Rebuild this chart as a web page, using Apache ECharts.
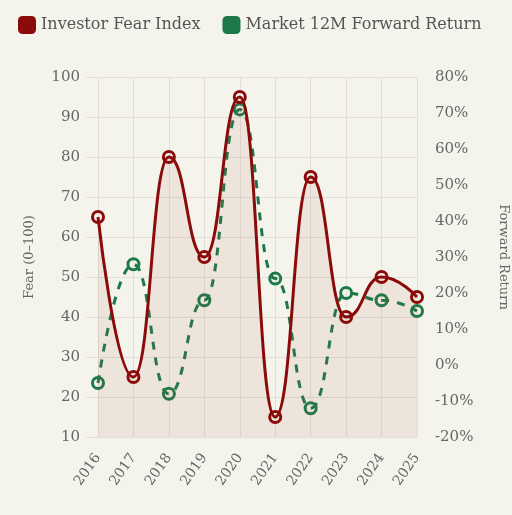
<!DOCTYPE html>
<html>
<head>
<meta charset="utf-8">
<script src="https://cdn.jsdelivr.net/npm/echarts@6/dist/echarts.min.js"></script>
<style>
  html, body { margin: 0; padding: 0; background: #f4f3ec; }
  #chart { width: 512px; height: 515px; }
</style>
</head>
<body>
<div id="chart"></div>
<script>
var years = ["2016", "2017", "2018", "2019", "2020", "2021", "2022", "2023", "2024", "2025"];
var fearIndex = [65, 25, 80, 55, 95, 15, 75, 40, 50, 45];
var forwardReturn = [-5, 28, -8, 18, 71, 24, -12, 20, 18, 15];

var font = "DejaVu Serif, Georgia, serif";
var textColor = "#666";
var red = "#8b0a0a";
var green = "#1d7a48";

var chart = echarts.init(document.getElementById("chart"));
var option = {
  backgroundColor: "#f4f3ec",
  textStyle: { fontFamily: font },
  legend: {
    left: 13,
    top: 11,
    itemWidth: 18,
    itemHeight: 18,
    itemGap: 22,
    icon: "roundRect",
    textStyle: { fontFamily: font, fontSize: 16, color: "#555" },
    data: [
      { name: "Investor Fear Index", itemStyle: { color: red, borderWidth: 0 } },
      { name: "Market 12M Forward Return", itemStyle: { color: green, borderWidth: 0 } }
    ]
  },
  grid: { left: 98, right: 95, top: 77, bottom: 78, outerBoundsMode: "none", containLabel: false },
  xAxis: {
    type: "category",
    data: years,
    boundaryGap: false,
    axisLine: { show: false },
    axisTick: { show: true, lineStyle: { color: "#e2ded8" }, length: 14 },
    splitLine: { show: true, lineStyle: { color: "#e2ded8" } },
    axisLabel: { rotate: 55, color: textColor, fontSize: 14, margin: 18, fontFamily: font }
  },
  yAxis: [
    {
      type: "value",
      min: 10,
      max: 100,
      interval: 10,
      name: "Fear (0–100)",
      nameLocation: "middle",
      nameGap: 62,
      nameTextStyle: { color: textColor, fontSize: 13, fontFamily: font },
      axisLine: { show: false },
      axisTick: { show: true, length: 12, lineStyle: { color: "#e2ded8" } },
      splitLine: { lineStyle: { color: "#e2ded8" } },
      axisLabel: { color: textColor, fontSize: 15, margin: 18, fontFamily: font }
    },
    {
      type: "value",
      min: -20,
      max: 80,
      interval: 10,
      name: "Forward Return",
      nameLocation: "middle",
      nameGap: 80,
      nameRotate: -90,
      nameTextStyle: { color: textColor, fontSize: 13, fontFamily: font },
      axisLine: { show: false },
      axisTick: { show: false },
      splitLine: { show: false },
      axisLabel: { color: textColor, fontSize: 15, margin: 18, fontFamily: font, formatter: "{value}%" }
    }
  ],
  series: [
    {
      name: "Investor Fear Index",
      type: "line",
      yAxisIndex: 0,
      smooth: 0.5,
      smoothMonotone: "x",
      data: fearIndex,
      symbol: "circle",
      symbolSize: 11,
      itemStyle: { color: "transparent", borderColor: red, borderWidth: 3 },
      lineStyle: { color: red, width: 3 },
      areaStyle: { color: "rgba(170, 80, 50, 0.13)", origin: "start" },
      z: 3
    },
    {
      name: "Market 12M Forward Return",
      type: "line",
      yAxisIndex: 1,
      smooth: 0.5,
      smoothMonotone: "x",
      data: forwardReturn,
      symbol: "circle",
      symbolSize: 11,
      itemStyle: { color: "transparent", borderColor: green, borderWidth: 3 },
      lineStyle: { color: green, width: 3, type: [8, 8] },
      z: 2
    }
  ]
};
chart.setOption(option);
</script>
</body>
</html>
